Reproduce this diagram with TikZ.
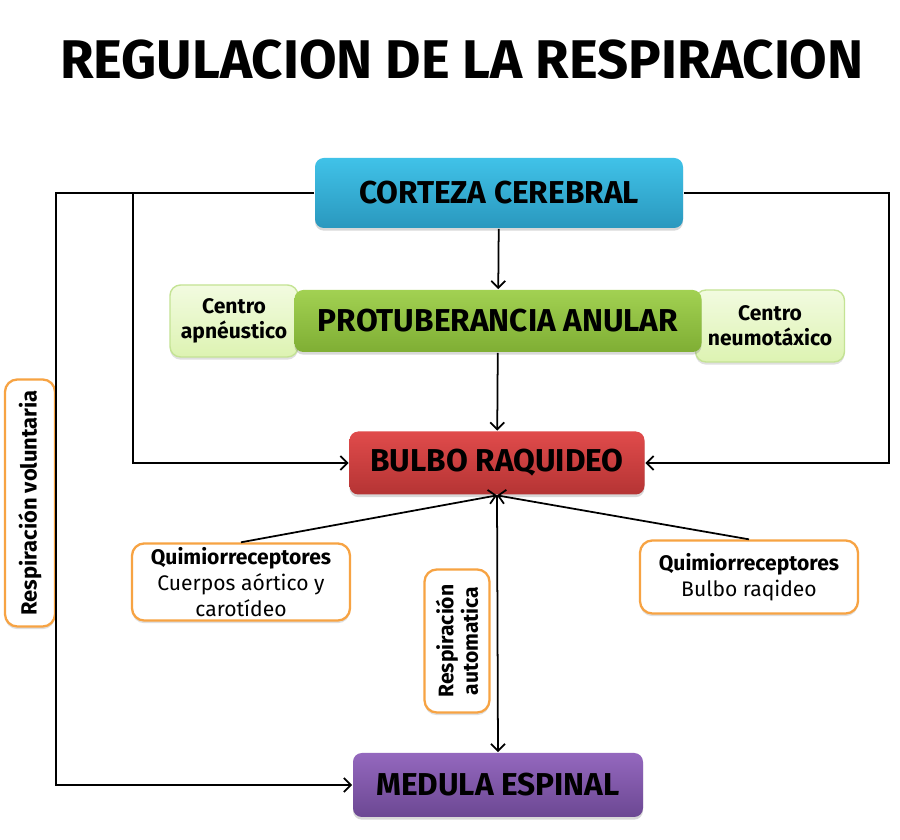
\documentclass[tikz,border=0pt]{standalone}
\usepackage{fontspec}
\setmainfont{Fira Sans}
\usetikzlibrary{arrows.meta, shadows}
\definecolor{ctzA}{HTML}{40C2E8}
\definecolor{ctzB}{HTML}{2A98BE}
\definecolor{prtA}{HTML}{A2D152}
\definecolor{prtB}{HTML}{7FAE34}
\definecolor{blbA}{HTML}{E04B4B}
\definecolor{blbB}{HTML}{B53434}
\definecolor{medA}{HTML}{9468BE}
\definecolor{medB}{HTML}{6C4893}
\definecolor{cenA}{HTML}{F2FBE0}
\definecolor{cenB}{HTML}{DDF3B2}
\definecolor{cenD}{HTML}{C4E394}
\definecolor{nar}{HTML}{F7A343}

\tikzset{
  caja/.style={rounded corners=5pt, draw=none, inner sep=2pt,
    font=\bfseries\fontsize{18}{22}\selectfont,
    drop shadow={opacity=0.3, shadow xshift=0pt, shadow yshift=-1.5pt}},
  centro/.style={rounded corners=6pt, draw=cenD, line width=0.8pt,
    top color=cenA, bottom color=cenB, align=center, inner sep=2pt,
    font=\bfseries\fontsize{12}{14}\selectfont,
    drop shadow={opacity=0.25, shadow xshift=0pt, shadow yshift=-1.5pt}},
  nota/.style={rounded corners=7pt, draw=nar, line width=1.3pt,
    fill=white, align=center, inner sep=2pt,
    font=\fontsize{12}{15}\selectfont,
    drop shadow={opacity=0.25, shadow xshift=0pt, shadow yshift=-1.5pt}},
}

\begin{document}
\begin{tikzpicture}[>={Straight Barb[length=4pt,width=8pt]}, line width=1pt]
  \fill[white] (0,0) rectangle (18,16.8);
  \useasboundingbox (0,0) rectangle (18,16.8);

  \node[font=\bfseries\fontsize{31}{35}\selectfont] (titulo) at (9.24,15.6)
    {REGULACION DE LA RESPIRACION};

  % centros a los lados de la protuberancia
  \node[centro, minimum width=2.56cm, minimum height=1.44cm]
    (apneu) at (4.68,10.38) {Centro\\apnéustico};
  \node[centro, minimum width=2.98cm, minimum height=1.44cm]
    (neumo) at (15.4,10.28) {Centro\\neumotáxico};

  \node[caja, top color=ctzA, bottom color=ctzB,
    minimum width=7.36cm, minimum height=1.4cm]
    (corteza) at (9.98,12.94) {CORTEZA CEREBRAL};
  \node[caja, top color=prtA, bottom color=prtB,
    minimum width=8.14cm, minimum height=1.24cm]
    (protub) at (9.96,10.38) {PROTUBERANCIA ANULAR};
  \node[caja, top color=blbA, bottom color=blbB,
    minimum width=5.9cm, minimum height=1.26cm]
    (bulbo) at (9.94,7.54) {BULBO RAQUIDEO};
  \node[caja, top color=medA, bottom color=medB,
    minimum width=5.8cm, minimum height=1.28cm]
    (medula) at (9.96,1.1) {MEDULA ESPINAL};

  \node[nota, minimum width=4.36cm, minimum height=1.5cm]
    (quimL) at (4.82,5.16)
    {\textbf{Quimiorreceptores}\\Cuerpos aórtico y\\carotídeo};
  \node[nota, minimum width=4.36cm, minimum height=1.46cm]
    (quimR) at (14.98,5.26)
    {\textbf{Quimiorreceptores}\\Bulbo raqideo};
  \node[nota, rotate=90, minimum width=4.94cm, minimum height=1.0cm,
    font=\bfseries\fontsize{12.5}{15}\selectfont]
    (volunt) at (0.6,6.74) {Respiración voluntaria};
  \node[nota, rotate=90, minimum width=2.86cm, minimum height=1.3cm,
    font=\bfseries\fontsize{12}{14}\selectfont]
    (autom) at (9.14,3.98) {Respiración\\automatica};

  \coordinate (lft) at (1.12,1.1);
  \coordinate (inl) at (2.66,7.54);
  \coordinate (rgt) at (17.78,7.54);

  \draw[->] (corteza.west) -| (lft) -- (medula.west);
  \draw[->] (corteza.west) -| (inl) -- (bulbo.west);
  \draw[->] (corteza.east) -| (rgt) -- (bulbo.east);
  \draw[->] (corteza) -- (protub);
  \draw[->] (protub) -- (bulbo);
  \draw[->] (quimL.north) -- (bulbo.south);
  \draw[->] (quimR.north) -- (bulbo.south);
  \draw[->] (bulbo.south) -- (medula.north);
\end{tikzpicture}
\end{document}
